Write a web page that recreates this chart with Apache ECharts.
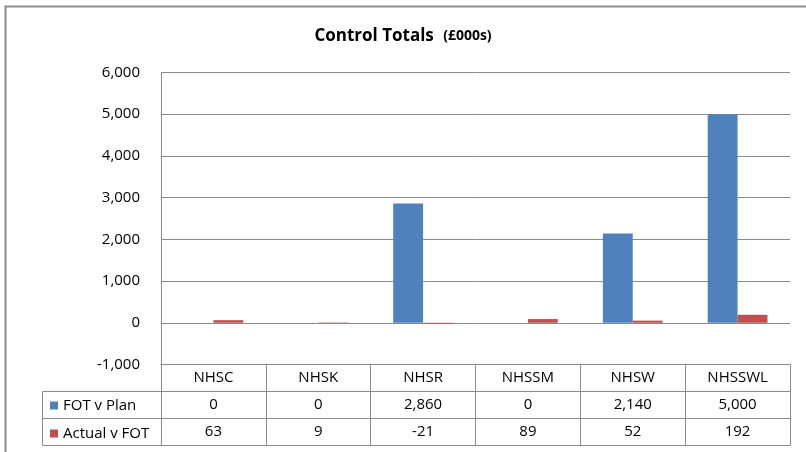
<!DOCTYPE html>
<html>
<head>
<meta charset="utf-8">
<script src="https://cdn.jsdelivr.net/npm/echarts@6/dist/echarts.min.js"></script>
<style>html,body{margin:0;padding:0;background:#fff;}#c{width:806px;height:452px;}</style>
</head>
<body>
<div id="c"></div>
<script>
var categories = ['NHSC', 'NHSK', 'NHSR', 'NHSSM', 'NHSW', 'NHSSWL'];
var fotVPlan = [0, 0, 2860, 0, 2140, 5000];
var actualVFot = [63, 9, -21, 89, 52, 192];
var seriesNames = ['FOT v Plan', 'Actual v FOT'];
var yTicks = { min: -1000, max: 6000, interval: 1000 };

var FONT = '"Open Sans", sans-serif';
var GRID_C = '#8a8a8a';
var fmt = function (v) { return Number(v).toLocaleString('en-US'); };

var chart = echarts.init(document.getElementById('c'), null, { renderer: 'canvas' });

function tableAxis(data, offset, showTick) {
  return {
    type: 'category',
    data: data,
    position: 'bottom',
    offset: offset,
    gridIndex: 0,
    axisLine: { show: true, onZero: false, lineStyle: { color: GRID_C, width: 1 } },
    axisTick: { show: !!showTick, length: 81, lineStyle: { color: GRID_C, width: 1 } },
    axisLabel: { show: true, interval: 0, margin: 6, color: '#000', fontFamily: FONT, fontSize: 15 },
    splitLine: { show: false }
  };
}

var option = {
  animation: false,
  backgroundColor: '#fff',
  textStyle: { fontFamily: FONT },
  title: {
    left: 'center',
    top: 25,
    padding: [0, 0, 0, 16],
    text: '{a|Control Totals}  {b|(£000s)}',
    textStyle: {
      rich: {
        a: { fontFamily: FONT, fontSize: 17, fontWeight: 'bold', color: '#000', lineHeight: 22 },
        b: { fontFamily: FONT, fontSize: 14, fontWeight: 'bold', color: '#000', lineHeight: 22 }
      }
    }
  },
  legend: {
    orient: 'vertical',
    left: 50,
    top: 398,
    padding: 0,
    itemWidth: 8,
    itemHeight: 8,
    itemGap: 13,
    icon: 'rect',
    selectedMode: false,
    textStyle: { fontFamily: FONT, fontSize: 15, color: '#000', lineHeight: 14 },
    data: seriesNames
  },
  grid: { left: 161, right: 16, top: 72.5, bottom: 87.5, containLabel: false },
  xAxis: [
    tableAxis(categories, 0, true),
    tableAxis(fotVPlan.map(fmt), 26.5, false),
    tableAxis(actualVFot.map(fmt), 53.5, false),
    (function () { var a = tableAxis(categories, 81, false); a.axisLabel = { show: false }; return a; })()
  ],
  yAxis: {
    type: 'value',
    min: yTicks.min,
    max: yTicks.max,
    interval: yTicks.interval,
    axisLine: { show: true, lineStyle: { color: GRID_C, width: 1 } },
    axisTick: { show: false },
    splitLine: { show: true, lineStyle: { color: GRID_C, width: 1 } },
    axisLabel: { color: '#000', fontFamily: FONT, fontSize: 15, margin: 21, formatter: fmt }
  },
  series: [
    {
      name: seriesNames[0], type: 'bar', xAxisIndex: 0, data: fotVPlan,
      barGap: '0%', barCategoryGap: '43%',
      itemStyle: { color: '#4F81BD' }
    },
    {
      name: seriesNames[1], type: 'bar', xAxisIndex: 0, data: actualVFot,
      barGap: '0%', barCategoryGap: '43%',
      itemStyle: { color: '#C0504D' }
    }
  ],
  graphic: [
    { type: 'polyline', silent: true, shape: { points: [[5.5, 452], [5.5, 6.5], [806, 6.5]] }, style: { stroke: '#8c8c8c', lineWidth: 2, fill: null } },
    { type: 'line', silent: true, shape: { x1: 42.5, y1: 391.5, x2: 161, y2: 391.5 }, style: { stroke: GRID_C, lineWidth: 1 } },
    { type: 'line', silent: true, shape: { x1: 42.5, y1: 418.5, x2: 161, y2: 418.5 }, style: { stroke: GRID_C, lineWidth: 1 } },
    { type: 'line', silent: true, shape: { x1: 42.5, y1: 445.5, x2: 161, y2: 445.5 }, style: { stroke: GRID_C, lineWidth: 1 } },
    { type: 'line', silent: true, shape: { x1: 42.5, y1: 391.5, x2: 42.5, y2: 445.5 }, style: { stroke: GRID_C, lineWidth: 1 } }
  ]
};
chart.setOption(option);
</script>
</body>
</html>
